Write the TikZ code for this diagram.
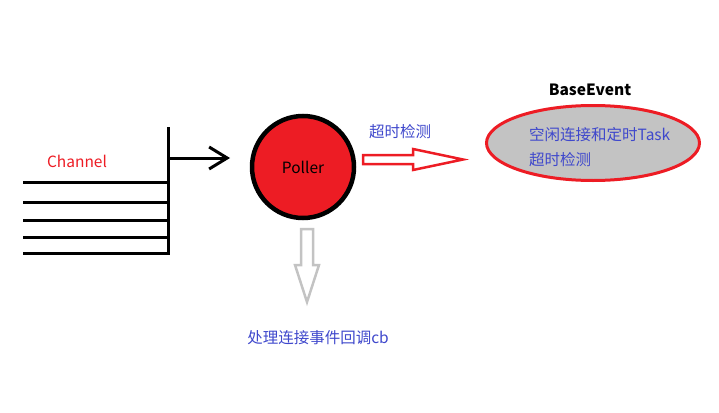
\documentclass[tikz,border=0pt]{standalone}
\usepackage{fontspec}
\setmainfont{Noto Sans CJK SC}
\usepackage{tikz}
\usetikzlibrary{arrows.meta,shapes.geometric}
\definecolor{paintred}{HTML}{ED1C24}
\definecolor{paintgray}{HTML}{C3C3C3}
\definecolor{ink}{HTML}{3F48CC}
\tikzset{
  bar/.style={draw=black, line width=3pt},
  lab/.style={font=\fontsize{15.5}{18}\selectfont, inner sep=0pt},
  redlab/.style={lab, text=paintred},
  bluelab/.style={lab, text=ink},
  title/.style={lab, font=\fontsize{15.5}{18}\selectfont\bfseries},
  poll/.style={circle, draw=black, fill=paintred, line width=4.5pt, minimum size=102pt, inner sep=0pt, lab},
  ev/.style={ellipse, draw=paintred, fill=paintgray, line width=3pt, minimum width=213pt, minimum height=75pt},
  hollowred/.style={draw=paintred, line width=2.5pt, line join=miter},
  hollowgray/.style={draw=paintgray, line width=2.5pt, line join=miter},
}
\begin{document}
\begin{tikzpicture}[x=1pt,y=-1pt]
  \useasboundingbox (0,0) rectangle (719,412);
  \coordinate (T) at (168,127);
  \coordinate (B) at (168,255);
  \coordinate (J) at (168,158);
  \coordinate (in) at (230,158);

  % channel lines
  \foreach \y in {182,202,220,237,253}
    \draw[bar] (23,\y) -- (168,\y);
  \draw[bar] (T) -- (B);
  \draw[bar, -{Straight Barb[length=18pt,width=22pt]}] (J) -- (in);
  \node[redlab] (chan) at (77,161) {Channel};

  \node[poll] (poller) at (303,167) {Poller};

  \node[ev] (base) at (593,143) {};
  \node[title] (name) at (590,90) {BaseEvent};
  \node[bluelab, anchor=west] (idle) at (529,135) {空闲连接和定时Task};
  \node[bluelab, anchor=west] (chk) at (529,160) {超时检测};

  % timeout arrow
  \coordinate (R) at (363,155);
  \draw[hollowred] (R) -- ++(50,0) -- ++(0,-6) -- (463,159.5) -- (413,170) -- ++(0,-6) -- (363,164) -- cycle;
  \node[bluelab] (tmo) at (400,132) {超时检测};

  % callback arrow
  \coordinate (D) at (301,229);
  \draw[hollowgray] (D) -- ++(12,0) -- ++(0,36) -- ++(6,0) -- (307,302) -- (295,265) -- ++(6,0) -- cycle;
  \node[bluelab] (cb) at (318,338) {处理连接事件回调cb};
\end{tikzpicture}
\end{document}
